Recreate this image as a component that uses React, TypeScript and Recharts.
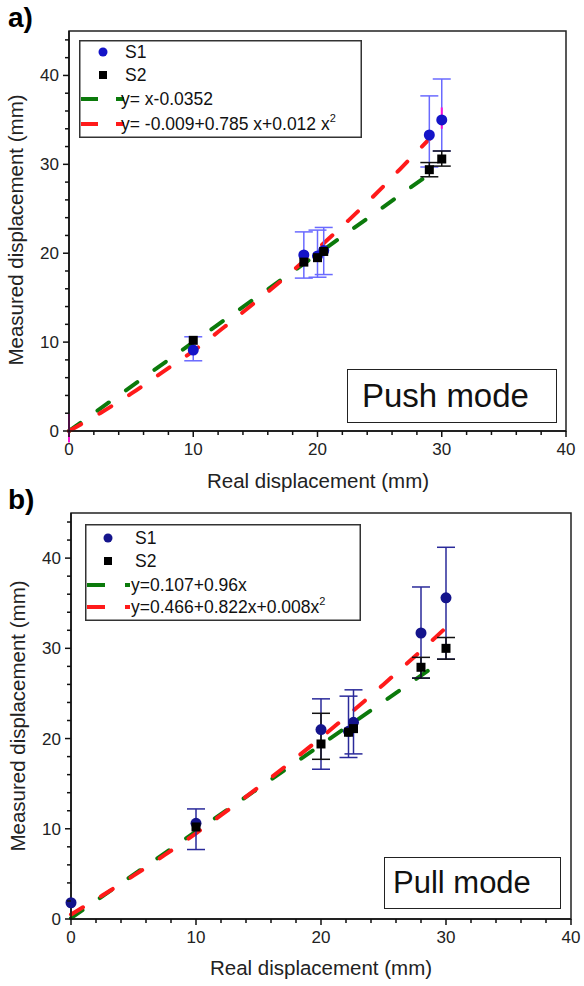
import React from "react";
import {
  ComposedChart,
  Scatter,
  Line,
  XAxis,
  YAxis,
  ErrorBar,
  Legend,
  ReferenceArea,
  ReferenceLine,
} from "recharts";

// ---- panel a) push mode ----
const pushS1X = [10, 18.9, 20, 20.5, 29, 30];
const pushS1Y = [9.1, 19.8, 19.7, 20.3, 33.3, 35.0];
const pushS1Lo = [7.9, 17.2, 17.3, 17.6, 29.7, 31.5];
const pushS1Hi = [10.6, 22.4, 22.6, 22.9, 37.7, 39.6];

const pushS2X = [10, 18.9, 20, 20.5, 29, 30];
const pushS2Y = [10.2, 19.0, 19.5, 20.2, 29.4, 30.6];
const pushS2Lo = [null, null, null, null, 28.6, 29.8];
const pushS2Hi = [null, null, null, null, 30.2, 31.5];

const pushMagX = [0, 30];
const pushMagLo = [-1.3, 34.0];
const pushMagHi = [1.9, 36.4];

const pushLinX = [0, 10, 20, 29.2];
const pushLinY = [0, 10, 19.9, 29.1];
const pushQuadX = [0, 2.5, 5, 7.5, 10, 12.5, 15, 17.5, 20, 22.5, 25, 27.5, 30];
const pushQuadY = [0, 2.0, 4.2, 6.6, 9.0, 11.7, 14.5, 17.4, 20.5, 23.7, 27.1, 30.7, 34.3];

// ---- panel b) pull mode ----
const pullS1X = [0, 10, 20, 22.2, 22.6, 28, 30];
const pullS1Y = [1.8, 10.6, 21.0, 20.8, 21.8, 31.7, 35.6];
const pullS1Lo = [null, 7.7, 16.6, 17.9, 18.3, 26.7, 28.8];
const pullS1Hi = [null, 12.2, 24.4, 24.7, 25.4, 36.8, 41.2];

const pullS2X = [10, 20, 22.2, 22.6, 28, 30];
const pullS2Y = [10.2, 19.4, 20.7, 21.1, 27.9, 30.0];
const pullS2Lo = [null, 17.7, null, null, 26.7, 28.8];
const pullS2Hi = [null, 22.8, null, null, 29.0, 31.2];

const pullLinX = [0, 10, 20, 29.8];
const pullLinY = [0.1, 9.7, 19.3, 28.7];
const pullQuadX = [0, 2.5, 5, 7.5, 10, 12.5, 15, 17.5, 20, 22.5, 25, 27.5, 30];
const pullQuadY = [0.5, 2.6, 4.8, 7.1, 9.5, 12.0, 14.6, 17.3, 20.1, 23.0, 26.0, 29.1, 32.3];

const xTicks = [0, 2, 4, 6, 8, 10, 12, 14, 16, 18, 20, 22, 24, 26, 28, 30, 32, 34, 36, 38, 40];
const yTicks = [0, 2, 4, 6, 8, 10, 12, 14, 16, 18, 20, 22, 24, 26, 28, 30, 32, 34, 36, 38, 40, 42, 44];

const FONT = "'Liberation Sans', Arial, sans-serif";
const GREEN = "#0b7a0b";
const RED = "#ff1a1a";

const points = (xs: number[], ys: number[], lo?: (number | null)[], hi?: (number | null)[]) =>
  xs.map((x, i) => ({
    x,
    y: ys[i],
    err: lo && hi && lo[i] != null && hi[i] != null ? [ys[i] - (lo[i] as number), (hi[i] as number) - ys[i]] : null,
  }));

const XTick = (props: any) => {
  const { x, y, payload } = props;
  const major = payload.value % 10 === 0;
  return (
    <g>
      <line x1={x} x2={x} y1={y} y2={y + (major ? 6 : 4)} stroke="#111" strokeWidth={1.5} />
      {major && (
        <text x={x} y={y + 24} textAnchor="middle" fontSize={17} fill="#222" fontFamily={FONT}>
          {payload.value}
        </text>
      )}
    </g>
  );
};

const YTick = (props: any) => {
  const { x, y, payload } = props;
  const major = payload.value % 10 === 0;
  return (
    <g>
      <line x1={x} x2={x - (major ? 6 : 4)} y1={y} y2={y} stroke="#111" strokeWidth={1.5} />
      {major && (
        <text x={x - 10} y={y + 6} textAnchor="end" fontSize={17} fill="#222" fontFamily={FONT}>
          {payload.value}
        </text>
      )}
    </g>
  );
};

const circle = (color: string) => (p: any) => <circle cx={p.cx} cy={p.cy} r={5.5} fill={color} />;
const square = (p: any) => <rect x={p.cx - 4.5} y={p.cy - 4.5} width={9} height={9} fill="#000" />;

type LegendProps = {
  w: number;
  h: number;
  rows: number[];
  markX: number;
  textX: number;
  dash: [number, number, number, number];
  lin: string;
  quad: string;
  s1Color: string;
};

const LegendBox = ({ w, h, rows, markX, textX, dash, lin, quad, s1Color }: LegendProps) => (
  <svg width={w} height={h} style={{ display: "block" }}>
    <rect x={0.75} y={0.75} width={w - 1.5} height={h - 1.5} fill="#fff" stroke="#333" strokeWidth={1.5} />
    <circle cx={markX} cy={rows[0]} r={4.5} fill={s1Color} />
    <rect x={markX - 4} y={rows[1] - 4} width={8} height={8} fill="#000" />
    {[GREEN, RED].map((c, i) => (
      <g key={c}>
        <line x1={dash[0]} x2={dash[1]} y1={rows[2 + i]} y2={rows[2 + i]} stroke={c} strokeWidth={4} />
        <line x1={dash[2]} x2={dash[3]} y1={rows[2 + i]} y2={rows[2 + i]} stroke={c} strokeWidth={4} />
      </g>
    ))}
    <g fontFamily={FONT} fontSize={17.5} fill="#111">
      <text x={textX} y={rows[0] + 6}>S1</text>
      <text x={textX} y={rows[1] + 6}>S2</text>
      <text x={textX - 4} y={rows[2] + 6}>{lin}</text>
      <text x={textX - 4} y={rows[3] + 6}>
        {quad}
        <tspan dy={-8} fontSize={11}>2</tspan>
      </text>
    </g>
  </svg>
);

type PanelProps = {
  top: number;
  height: number;
  margin: { top: number; right: number; bottom: number; left: number };
  yWidth: number;
  xHeight: number;
  s1: any[];
  s2: any[];
  lin: any[];
  quad: any[];
  s1Color: string;
  s1ErrColor: string;
  magenta?: { x: number; lo: number; hi: number }[];
  legend: LegendProps;
  legendPos: { left: number; top: number };
  yTitle: { x: number; y: number };
  xTitle: { x: number; y: number };
};

const Panel = (p: PanelProps) => (
  <div style={{ position: "absolute", left: 0, top: p.top }}>
    <ComposedChart width={584} height={p.height} margin={p.margin}>
      <XAxis
        dataKey="x"
        type="number"
        domain={[0, 40]}
        ticks={xTicks}
        interval={0}
        tickSize={0}
        tickMargin={0}
        tickLine={false}
        tick={XTick}
        height={p.xHeight}
        axisLine={{ stroke: "#111", strokeWidth: 1.5 }}
        label={{
          content: () => (
            <text x={p.xTitle.x} y={p.xTitle.y} textAnchor="middle" fontSize={20.5} fill="#222" fontFamily={FONT}>
              Real displacement (mm)
            </text>
          ),
        }}
      />
      <YAxis
        dataKey="y"
        type="number"
        domain={[0, 45]}
        ticks={yTicks}
        interval={0}
        tickSize={0}
        tickMargin={0}
        tickLine={false}
        tick={YTick}
        width={p.yWidth}
        axisLine={{ stroke: "#111", strokeWidth: 1.5 }}
        label={{
          content: () => (
            <text
              x={p.yTitle.x}
              y={p.yTitle.y}
              transform={`rotate(-90 ${p.yTitle.x} ${p.yTitle.y})`}
              textAnchor="middle"
              fontSize={20.5}
              fill="#222"
              fontFamily={FONT}
            >
              Measured displacement (mm)
            </text>
          ),
        }}
      />
      <ReferenceArea x1={0} x2={40} y1={0} y2={45} fill="none" stroke="#222" strokeWidth={1.5} />
      <Line
        data={p.lin}
        dataKey="y"
        type="linear"
        stroke={GREEN}
        strokeWidth={4}
        strokeDasharray="14 21"
        strokeLinecap="round"
        dot={false}
        isAnimationActive={false}
      />
      <Line
        data={p.quad}
        dataKey="y"
        type="monotone"
        stroke={RED}
        strokeWidth={4}
        strokeDasharray="14 21"
        strokeLinecap="round"
        dot={false}
        isAnimationActive={false}
      />
      <Scatter data={p.s1} shape={circle(p.s1Color)} isAnimationActive={false}>
        <ErrorBar dataKey="err" direction="y" width={9} stroke={p.s1ErrColor} strokeWidth={1.5} />
      </Scatter>
      <Scatter data={p.s2} shape={square} isAnimationActive={false}>
        <ErrorBar dataKey="err" direction="y" width={9} stroke="#111" strokeWidth={1.5} />
      </Scatter>
      {(p.magenta || []).map((m) => (
        <ReferenceLine
          key={m.x}
          segment={[
            { x: m.x, y: m.lo },
            { x: m.x, y: m.hi },
          ]}
          stroke="#ff10d8"
          strokeWidth={2}
          ifOverflow="visible"
        />
      ))}
      <Legend
        layout="vertical"
        align="center"
        verticalAlign="middle"
        wrapperStyle={{ left: p.legendPos.left, top: p.legendPos.top, width: p.legend.w, height: p.legend.h }}
        content={() => <LegendBox {...p.legend} />}
      />
    </ComposedChart>
  </div>
);

const modeBox = (left: number, top: number, w: number, h: number, size: number, pad: number): React.CSSProperties => ({
  position: "absolute",
  left,
  top,
  width: w,
  height: h,
  boxSizing: "border-box",
  border: "1.5px solid #222",
  background: "#fff",
  fontFamily: FONT,
  fontSize: size,
  lineHeight: `${h - 3}px`,
  paddingLeft: pad,
  color: "#111",
  whiteSpace: "nowrap",
});

export default function App() {
  const pushMag = pushMagX.map((x, i) => ({ x, lo: pushMagLo[i], hi: pushMagHi[i] }));
  return (
    <div style={{ position: "absolute", left: 0, top: 0, width: 584, height: 986, background: "#fff", overflow: "hidden" }}>
      <Panel
        top={0}
        height={500}
        margin={{ top: 31, right: 18, bottom: 0, left: 0 }}
        yWidth={69}
        xHeight={69}
        s1={points(pushS1X, pushS1Y, pushS1Lo, pushS1Hi)}
        s2={points(pushS2X, pushS2Y, pushS2Lo, pushS2Hi)}
        lin={points(pushLinX, pushLinY)}
        quad={points(pushQuadX, pushQuadY)}
        s1Color="#1414c8"
        s1ErrColor="#6a6aff"
        magenta={pushMag}
        legend={{
          w: 283,
          h: 98,
          rows: [12, 35, 59, 84],
          markX: 24,
          textX: 46,
          dash: [2, 19, 37, 45],
          lin: "y= x-0.0352",
          quad: "y= -0.009+0.785 x+0.012 x",
          s1Color: "#1414c8",
        }}
        legendPos={{ left: 79, top: 40 }}
        yTitle={{ x: 23, y: 230 }}
        xTitle={{ x: 318, y: 488 }}
      />
      <Panel
        top={490}
        height={496}
        margin={{ top: 23, right: 13, bottom: 0, left: 0 }}
        yWidth={71}
        xHeight={67}
        s1={points(pullS1X, pullS1Y, pullS1Lo, pullS1Hi)}
        s2={points(pullS2X, pullS2Y, pullS2Lo, pullS2Hi)}
        lin={points(pullLinX, pullLinY)}
        quad={points(pullQuadX, pullQuadY)}
        s1Color="#14148c"
        s1ErrColor="#2a2a9a"
        legend={{
          w: 276,
          h: 97,
          rows: [14, 37, 61, 83],
          markX: 23,
          textX: 50,
          dash: [2, 20, 40, 45],
          lin: "y=0.107+0.96x",
          quad: "y=0.466+0.822x+0.008x",
          s1Color: "#14148c",
        }}
        legendPos={{ left: 85, top: 34 }}
        yTitle={{ x: 25, y: 716 - 490 }}
        xTitle={{ x: 321, y: 975 - 490 }}
      />
      <div style={modeBox(347, 369, 210, 54, 33, 14)}>Push mode</div>
      <div style={modeBox(384, 857, 177, 52, 31, 8)}>Pull mode</div>
      <div style={{ position: "absolute", left: 8, top: 2, fontFamily: FONT, fontWeight: "bold", fontSize: 28 }}>a)</div>
      <div style={{ position: "absolute", left: 8, top: 484, fontFamily: FONT, fontWeight: "bold", fontSize: 28 }}>b)</div>
    </div>
  );
}
